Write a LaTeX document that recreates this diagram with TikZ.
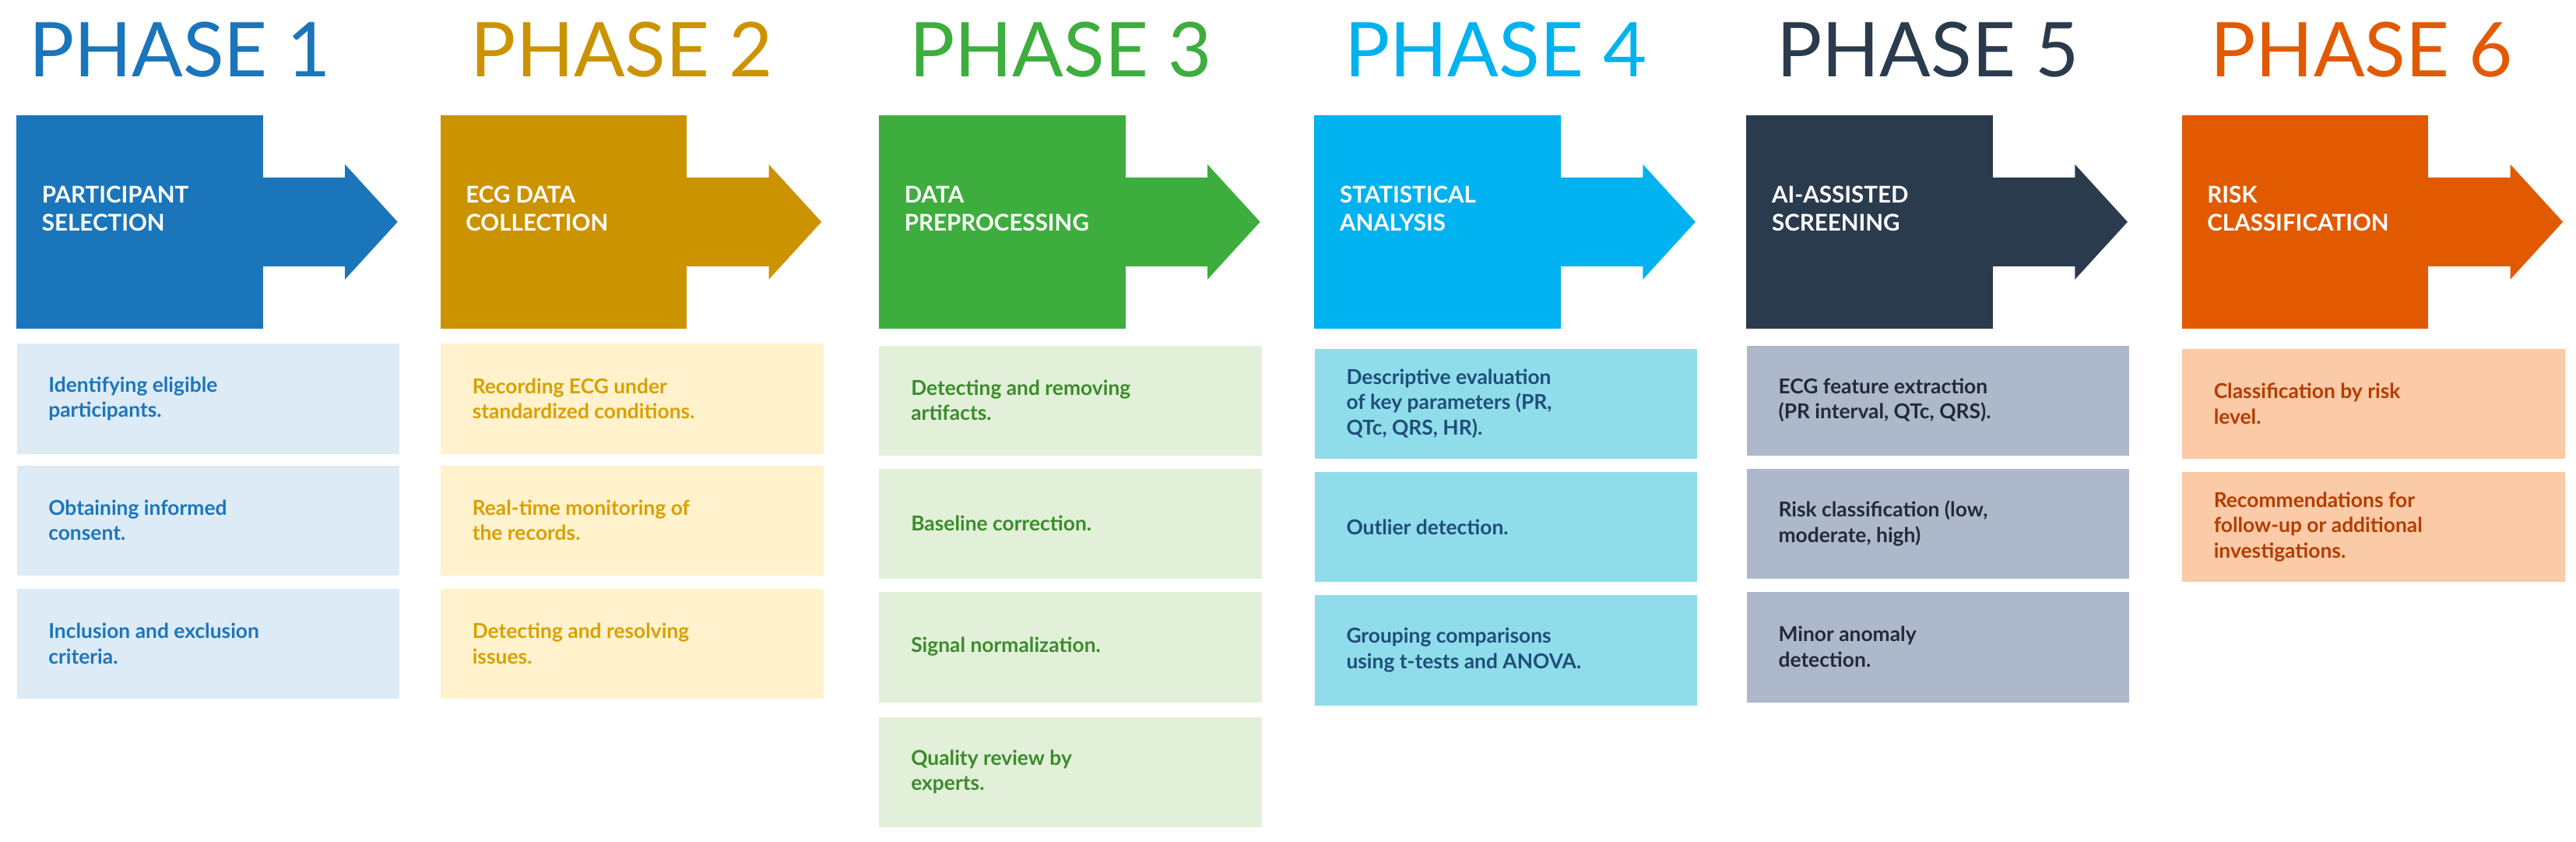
\documentclass[tikz,border=0pt]{standalone}
\usepackage{fontspec}
\setmainfont{Lato}
\definecolor{cA}{HTML}{1B75BB}\definecolor{lA}{HTML}{DDEBF7}\definecolor{tA}{HTML}{1B75BB}
\definecolor{cB}{HTML}{CC9300}\definecolor{lB}{HTML}{FFF2CC}\definecolor{tB}{HTML}{D9A000}
\definecolor{cC}{HTML}{3DAE3D}\definecolor{lC}{HTML}{E2F0D9}\definecolor{tC}{HTML}{3A8C2A}
\definecolor{cD}{HTML}{00B2F0}\definecolor{lD}{HTML}{8FDDEA}\definecolor{tD}{HTML}{1F4E79}
\definecolor{cE}{HTML}{2B3B4E}\definecolor{lE}{HTML}{ADB9CA}\definecolor{tE}{HTML}{222A35}
\definecolor{cF}{HTML}{E15A00}\definecolor{lF}{HTML}{FBCAA6}\definecolor{tF}{HTML}{B43C00}
\tikzset{
 ttl/.style={anchor=west,font=\fontsize{46}{50}\selectfont},
 head/.style={anchor=west,text=white,align=left,font=\fontsize{14}{17}\selectfont\bfseries},
 item/.style={anchor=north west,minimum width=233pt,minimum height=67pt,inner sep=0pt},
 itxt/.style={anchor=west,align=left,font=\fontsize{12.5}{15.5}\selectfont\bfseries}
}
\newcommand\arrowbox[4]{% x, color, name, text
 \fill[#2] (#1,70) rectangle (#1+150,200);
 \fill[#2] (#1+150,108) -- (#1+200,108) -- (#1+200,100) -- (#1+232,135) -- (#1+200,170) -- (#1+200,162) -- (#1+150,162) -- cycle;
 \node[head] (#3) at (#1+12,127) {#4};}
\newcommand\itembox[6]{% x, y, fill, textcolor, name, text
 \node[item,fill=#3] (#5) at (#1,#2) {};
 \node[itxt,text=#4] (#5t) at (#1+16,#2+33.5) {#6};}
\begin{document}
\begin{tikzpicture}[x=1pt,y=-1pt]
\useasboundingbox (0,0) rectangle (1568,512);
\node[ttl,text=cA] (t1) at (14,30) {PHASE 1};
\node[ttl,text=cB] (t2) at (283,30) {PHASE 2};
\node[ttl,text=cC] (t3) at (550,30) {PHASE 3};
\node[ttl,text=cD] (t4) at (815,30) {PHASE 4};
\node[ttl,text=cE] (t5) at (1078,30) {PHASE 5};
\node[ttl,text=cF] (t6) at (1342,30) {PHASE 6};
\arrowbox{10}{cA}{h1}{PARTICIPANT\\SELECTION}
\arrowbox{268}{cB}{h2}{ECG DATA\\COLLECTION}
\arrowbox{535}{cC}{h3}{DATA\\PREPROCESSING}
\arrowbox{800}{cD}{h4}{STATISTICAL\\ANALYSIS}
\arrowbox{1063}{cE}{h5}{AI-ASSISTED\\SCREENING}
\arrowbox{1328}{cF}{h6}{RISK\\CLASSIFICATION}
\itembox{10}{209}{lA}{tA}{a1}{Identifying eligible\\participants.}
\itembox{10}{283}{lA}{tA}{a2}{Obtaining informed\\consent.}
\itembox{10}{358}{lA}{tA}{a3}{Inclusion and exclusion\\criteria.}
\itembox{268}{209}{lB}{tB}{b1}{Recording ECG under\\standardized conditions.}
\itembox{268}{283}{lB}{tB}{b2}{Real-time monitoring of\\the records.}
\itembox{268}{358}{lB}{tB}{b3}{Detecting and resolving\\issues.}
\itembox{535}{210}{lC}{tC}{c1}{Detecting and removing\\artifacts.}
\itembox{535}{285}{lC}{tC}{c2}{Baseline correction.}
\itembox{535}{360}{lC}{tC}{c3}{Signal normalization.}
\itembox{535}{436}{lC}{tC}{c4}{Quality review by\\experts.}
\itembox{800}{212}{lD}{tD}{d1}{Descriptive evaluation\\of key parameters (PR,\\QTc, QRS, HR).}
\itembox{800}{287}{lD}{tD}{d2}{Outlier detection.}
\itembox{800}{362}{lD}{tD}{d3}{Grouping comparisons\\using t-tests and ANOVA.}
\itembox{1063}{210}{lE}{tE}{e1}{ECG feature extraction\\(PR interval, QTc, QRS).}
\itembox{1063}{285}{lE}{tE}{e2}{Risk classification (low,\\moderate, high)}
\itembox{1063}{360}{lE}{tE}{e3}{Minor anomaly\\detection.}
\itembox{1328}{212}{lF}{tF}{f1}{Classification by risk\\level.}
\itembox{1328}{287}{lF}{tF}{f2}{Recommendations for\\follow-up or additional\\investigations.}
\end{tikzpicture}
\end{document}
